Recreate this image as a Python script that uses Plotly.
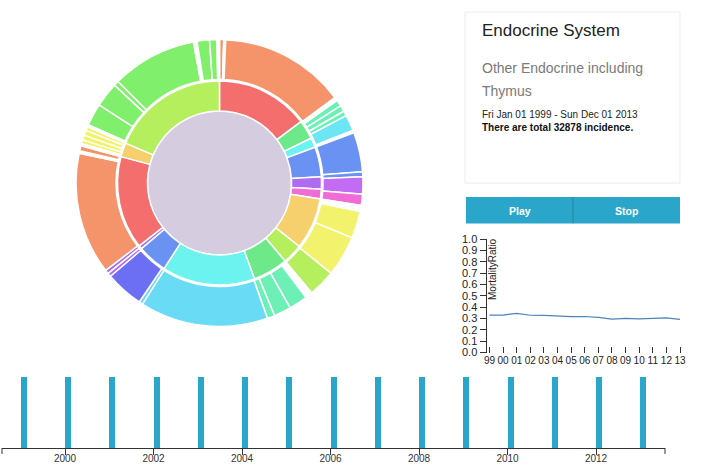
import plotly.graph_objects as go

# ---------------- data ----------------
# sunburst: inner ring (categories) and outer ring (sub-categories), sizes in incidences
RED, ORANGE, GOLD, YELLOW = "#f56e6e", "#f5946a", "#f5d06c", "#f2f26c"
LIME, GREEN, GREEN2, TEAL = "#b6ef5e", "#80ef6c", "#6ee98a", "#6cf0b6"
CYAN, CYAN2, SKY = "#6cf3f0", "#6ce6f3", "#6adbf4"
BLUE, INDIGO, PURPLE, VIOLET, MAGENTA = "#6a92f2", "#6c6ef4", "#ad6cf2", "#c26cf4", "#f06cd6"
GAP = "rgba(0,0,0,0)"

total_incidence = 32878

inner_labels = ["Cat 1", "Cat 2", "Cat 3", "Cat 4", "Cat 5", "Cat 6", "Cat 7", "Cat 8",
                "Cat 9", "Cat 10", "Cat 11", "Cat 12", "Cat 13", "Cat 14", "Endocrine System"]
inner_values = [4840, 1005, 502, 1553, 639, 502, 2694, 1050, 1827, 4840, 1553, 183, 4840, 731, 6119]
inner_colors = [RED, GREEN2, CYAN, BLUE, PURPLE, MAGENTA, GOLD, LIME, GREEN2, CYAN, BLUE, PURPLE,
                RED, GOLD, LIME]

outer_values = [155, 73, 4658, 137, 228, 228, 183, 594, 91, 1461, 183, 639, 411, 228, 1005, 1507,
                1005, 274, 685, 639, 274, 4749, 137, 1416, 137, 137, 4521, 91, 183, 91, 137, 183,
                183, 137, 91, 822, 913, 183, 3151, 137, 457, 274, 91]
outer_colors = [ORANGE, GAP, ORANGE, GAP, TEAL, TEAL, TEAL, CYAN2, GAP, BLUE, BLUE, VIOLET, MAGENTA,
                GAP, YELLOW, YELLOW, LIME, GAP, TEAL, TEAL, TEAL, SKY, SKY, INDIGO, PURPLE, PURPLE,
                ORANGE, GAP, ORANGE, GAP, YELLOW, YELLOW, YELLOW, YELLOW, GAP, GREEN, GREEN, GREEN,
                GREEN, GAP, GREEN, GREEN, GAP]

# mortality ratio line chart
years = [1999, 2000, 2001, 2002, 2003, 2004, 2005, 2006, 2007, 2008, 2009, 2010, 2011, 2012, 2013]
year_labels = ["99", "00", "01", "02", "03", "04", "05", "06", "07", "08", "09", "10", "11", "12", "13"]
mortality_ratio = [0.33, 0.33, 0.345, 0.328, 0.327, 0.321, 0.316, 0.317, 0.309, 0.294, 0.300,
                   0.297, 0.301, 0.305, 0.292]
ratio_ticks = [0.0, 0.1, 0.2, 0.3, 0.4, 0.5, 0.6, 0.7, 0.8, 0.9, 1.0]

# timeline markers
timeline_marks = [1, 1, 1, 1, 1, 1, 1, 1, 1, 1, 1, 1, 1, 1, 1]
timeline_ticks = [2000, 2002, 2004, 2006, 2008, 2010, 2012]
timeline_tick_labels = ["2000", "2002", "2004", "2006", "2008", "2010", "2012"]

# ---------------- layout helpers ----------------
W, H = 720, 471
FONT = "Liberation Sans, Arial, Helvetica, sans-serif"
BTN = "#2ba6cb"


def fx(x):
    return x / W


def fy(y):
    return 1 - y / H


CX, CY = 219.5, 183.0
R_DISC, R_IN, R_OUT_IN, R_OUT = 72.0, 102.0, 103.5, 143.5


def pie_domain(r):
    return dict(x=[fx(CX - r), fx(CX + r)], y=[fy(CY + r), fy(CY - r)])


fig = go.Figure()

fig.add_trace(go.Pie(labels=["All"], values=[total_incidence], domain=pie_domain(R_DISC),
                     marker=dict(colors=["#d5cce0"], line=dict(color="white", width=1.5)),
                     textinfo="none", sort=False, showlegend=False))
fig.add_trace(go.Pie(labels=inner_labels, values=inner_values, hole=R_DISC / R_IN,
                     domain=pie_domain(R_IN), direction="clockwise", sort=False, rotation=0,
                     marker=dict(colors=inner_colors, line=dict(color="white", width=1.5)),
                     textinfo="none", showlegend=False))
outer_labels = ["sub %d" % (i + 1) for i in range(len(outer_values))]
fig.add_trace(go.Pie(labels=outer_labels, values=outer_values, hole=R_OUT_IN / R_OUT,
                     domain=pie_domain(R_OUT), direction="clockwise", sort=False, rotation=0,
                     marker=dict(colors=outer_colors, line=dict(color="white", width=1.5)),
                     textinfo="none", showlegend=False))

# timeline bars (bottom)
fig.add_trace(go.Bar(x=years, y=timeline_marks, width=0.14, offset=0,
                     marker=dict(color=BTN, line=dict(width=0)),
                     xaxis="x", yaxis="y", showlegend=False))

# mortality line
fig.add_trace(go.Scatter(x=years, y=mortality_ratio, mode="lines",
                         line=dict(color="#4f83b8", width=1.2),
                         xaxis="x2", yaxis="y2", showlegend=False))

PX_PER_YEAR_T = 44.25
T_LEFT, T_RIGHT = 2.0, 665.0
t_start = 2000 - (65 - T_LEFT) / PX_PER_YEAR_T
t_end = t_start + (T_RIGHT - T_LEFT) / PX_PER_YEAR_T

PX_PER_YEAR_L = (680 - 489.5) / 14
L_LEFT, L_RIGHT = 486.5, 683.0
l_start = 1999 - (489.5 - L_LEFT) / PX_PER_YEAR_L
l_end = l_start + (L_RIGHT - L_LEFT) / PX_PER_YEAR_L

shapes = [
    # info card
    dict(type="rect", xref="paper", yref="paper", x0=fx(465), x1=fx(680), y0=fy(183), y1=fy(12),
         line=dict(color="#ececec", width=1), fillcolor="white", layer="below"),
    # buttons
    dict(type="rect", xref="paper", yref="paper", x0=fx(466), x1=fx(680), y0=fy(223.5), y1=fy(197),
         line=dict(width=0), fillcolor=BTN, layer="below"),
    dict(type="line", xref="paper", yref="paper", x0=fx(573), x1=fx(573), y0=fy(223.5), y1=fy(197),
         line=dict(color="#2284a1", width=1)),
    # outer ticks of the timeline axis
    dict(type="line", xref="paper", yref="paper", x0=fx(T_LEFT), x1=fx(T_LEFT), y0=fy(448), y1=fy(454),
         line=dict(color="#333", width=1)),
    dict(type="line", xref="paper", yref="paper", x0=fx(T_RIGHT), x1=fx(T_RIGHT), y0=fy(448), y1=fy(454),
         line=dict(color="#333", width=1)),
]


def ann(text, x, y, size, color, xanchor="left", bold=False, angle=0):
    return dict(text=("<b>%s</b>" % text) if bold else text, x=fx(x), y=fy(y), xref="paper",
                yref="paper", xanchor=xanchor, yanchor="middle", showarrow=False, textangle=angle,
                font=dict(family=FONT, size=size, color=color), borderpad=0)


annotations = [
    ann("Endocrine System", 480.5, 30.8, 17, "#222"),
    ann("Other Endocrine including", 480.5, 68.4, 14, "#7a7a7a"),
    ann("Thymus", 480.5, 91.1, 14, "#7a7a7a"),
    ann("Fri Jan 01 1999 - Sun Dec 01 2013", 480.5, 114.8, 10, "#222"),
    ann("There are total %d incidence." % total_incidence, 480.5, 127.2, 10, "#111", bold=True),
    ann("Play", 519.5, 210.5, 10.5, "white", xanchor="center", bold=True),
    ann("Stop", 626.5, 210.5, 10.5, "white", xanchor="center", bold=True),
    ann("MortalityRatio", 492.7, 269.3, 10, "#222", xanchor="center", angle=-90),
]

fig.update_layout(
    template="none",
    width=W, height=H,
    margin=dict(l=0, r=0, t=0, b=0),
    paper_bgcolor="white", plot_bgcolor="rgba(0,0,0,0)",
    font=dict(family=FONT, color="#222"),
    showlegend=False,
    bargap=0,
    shapes=shapes,
    annotations=annotations,
    xaxis=dict(domain=[fx(T_LEFT), fx(T_RIGHT)], range=[t_start, t_end], anchor="y",
               tickmode="array", tickvals=timeline_ticks, ticktext=timeline_tick_labels,
               ticks="outside", ticklen=6, tickcolor="#333", showline=True, linecolor="#333",
               linewidth=1, showgrid=False, zeroline=False, automargin=False, tickangle=0,
               ticklabelstandoff=-5,
               tickfont=dict(size=10, color="#333", family=FONT)),
    yaxis=dict(domain=[fy(448), fy(377)], range=[0, 1], anchor="x", visible=False,
               automargin=False),
    xaxis2=dict(domain=[fx(L_LEFT), fx(L_RIGHT)], range=[l_start, l_end], anchor="y2",
                tickmode="array", tickvals=years, ticktext=year_labels, tickangle=0,
                ticks="inside", ticklen=6, tickcolor="#333", showline=False, showgrid=False,
                zeroline=False, automargin=False,
                tickfont=dict(size=10, color="#222", family=FONT)),
    yaxis2=dict(domain=[fy(352.5), fy(239)], range=[0, 1], anchor="x2",
                tickmode="array", tickvals=ratio_ticks, tickformat=".1f",
                ticks="outside", ticklen=6, tickcolor="#333", showline=True, linecolor="#333",
                linewidth=1, showgrid=False, zeroline=False, automargin=False,
                tickfont=dict(size=11, color="#222", family=FONT)),
)

fig.write_html("out.html", config={"displayModeBar": False},
               post_script="document.body.style.margin='0px';")
